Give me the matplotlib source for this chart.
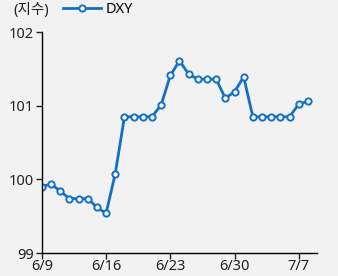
import numpy as np
import matplotlib
matplotlib.use('Agg')
import matplotlib.pyplot as plt

plt.rcParams['font.family'] = ['Noto Sans', 'Noto Sans CJK KR', 'DejaVu Sans']

# data: daily DXY, 6/9 ~ 7/8
dates = ['6/9', '6/10', '6/11', '6/12', '6/13', '6/14', '6/15', '6/16', '6/17', '6/18',
         '6/19', '6/20', '6/21', '6/22', '6/23', '6/24', '6/25', '6/26', '6/27', '6/28',
         '6/29', '6/30', '7/1', '7/2', '7/3', '7/4', '7/5', '7/6', '7/7', '7/8']
dxy = [99.90, 99.94, 99.84, 99.74, 99.74, 99.74, 99.62, 99.54, 100.08, 100.85,
       100.85, 100.85, 100.85, 101.01, 101.41, 101.61, 101.43, 101.36, 101.36, 101.36,
       101.10, 101.19, 101.39, 100.85, 100.85, 100.85, 100.85, 100.85, 101.02, 101.06]
tick_labels = ['6/9', '6/16', '6/23', '6/30', '7/7']

bg = '#f2f2f2'
blue = '#1470c4'

fig = plt.figure(figsize=(3.38, 2.76), dpi=100, facecolor=bg)
ax = fig.add_axes([0.124, 0.083, 0.814, 0.801], facecolor=bg)

x = np.arange(len(dates))
ax.plot(x, dxy, color=blue, lw=2.0, marker='o', ms=4.5, mfc='white', mec=blue, mew=1.4,
        label='DXY')

ax.set_xlim(0, 30)
ax.set_ylim(99, 102)
ax.set_yticks([99, 100, 101, 102])
ax.set_xticks([dates.index(t) for t in tick_labels])
ax.set_xticklabels(tick_labels)

for s in ['top', 'right']:
    ax.spines[s].set_visible(False)
for s in ['left', 'bottom']:
    ax.spines[s].set_color('black')
    ax.spines[s].set_linewidth(1.0)
ax.tick_params(axis='both', labelsize=10.5, length=4, width=1.0, colors='#222222', pad=2)
ax.tick_params(axis='x', pad=0.5)

fig.text(0.04, 0.962, '(지수)', fontsize=10.5, color='#222222', va='center')
leg = ax.legend(loc='center left', bbox_to_anchor=(0.055, 1.1), frameon=False,
                fontsize=10.5, handlelength=2.6, handletextpad=0.3, borderaxespad=0)

fig.savefig('out.png', dpi=100, facecolor=bg)
